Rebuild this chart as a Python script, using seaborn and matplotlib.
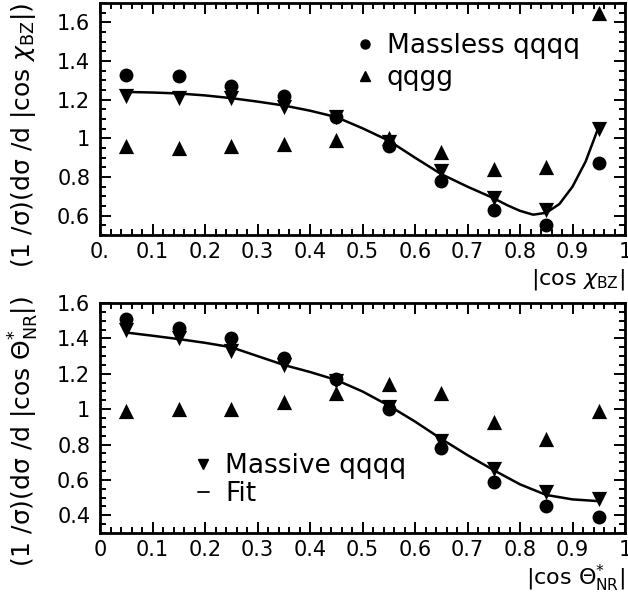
import matplotlib
matplotlib.use("Agg")
import matplotlib.pyplot as plt
from matplotlib.lines import Line2D
from matplotlib.ticker import MultipleLocator
import seaborn as sns
import numpy as np
import pandas as pd

# ---------------- data ----------------
x_bins = [0.05, 0.15, 0.25, 0.35, 0.45, 0.55, 0.65, 0.75, 0.85, 0.95]

# top panel: |cos chi_BZ|
top_massless = [1.33, 1.32, 1.27, 1.22, 1.11, 0.96, 0.78, 0.63, 0.55, 0.87]
top_qqgg     = [0.96, 0.95, 0.96, 0.97, 0.99, 1.00, 0.93, 0.84, 0.85, 1.65]
top_massive  = [1.22, 1.21, 1.21, 1.16, 1.11, 0.98, 0.83, 0.69, 0.63, 1.05]
top_fit_x = [0.05, 0.10, 0.15, 0.20, 0.25, 0.30, 0.35, 0.40, 0.45, 0.50, 0.55,
             0.60, 0.65, 0.70, 0.75, 0.775, 0.80, 0.825, 0.85, 0.875, 0.90, 0.925, 0.95]
top_fit_y = [1.240, 1.237, 1.232, 1.222, 1.208, 1.190, 1.170, 1.143, 1.110, 1.052, 0.988,
             0.900, 0.815, 0.750, 0.690, 0.655, 0.625, 0.605, 0.615, 0.660, 0.750, 0.880, 1.060]

# bottom panel: |cos Theta*_NR|
bot_massless = [1.51, 1.46, 1.40, 1.29, 1.17, 1.00, 0.78, 0.59, 0.45, 0.39]
bot_qqgg     = [0.99, 1.00, 1.00, 1.04, 1.09, 1.14, 1.09, 0.93, 0.83, 0.99]
bot_massive  = [1.45, 1.40, 1.33, 1.25, 1.16, 1.01, 0.82, 0.66, 0.53, 0.49]
bot_fit_x = [0.05, 0.10, 0.15, 0.20, 0.25, 0.30, 0.35, 0.40, 0.45, 0.50, 0.55,
             0.60, 0.65, 0.70, 0.75, 0.80, 0.85, 0.90, 0.95]
bot_fit_y = [1.433, 1.415, 1.396, 1.375, 1.350, 1.300, 1.250, 1.210, 1.165, 1.100, 1.020,
             0.930, 0.832, 0.740, 0.655, 0.575, 0.515, 0.490, 0.480]

top_xticklabels = ["0.", "0.1", "0.2", "0.3", "0.4", "0.5", "0.6", "0.7", "0.8", "0.9", "1"]
bot_xticklabels = ["0", "0.1", "0.2", "0.3", "0.4", "0.5", "0.6", "0.7", "0.8", "0.9", "1"]
top_yticks = [0.6, 0.8, 1.0, 1.2, 1.4, 1.6]
top_yticklabels = ["0.6", "0.8", "1", "1.2", "1.4", "1.6"]
bot_yticks = [0.4, 0.6, 0.8, 1.0, 1.2, 1.4, 1.6]
bot_yticklabels = ["0.4", "0.6", "0.8", "1", "1.2", "1.4", "1.6"]

# ---------------- style ----------------
sns.set_theme(style="ticks")
plt.rcParams['font.family'] = ['DejaVu Sans']
plt.rcParams['mathtext.fontset'] = 'dejavusans'
plt.rcParams['text.color'] = 'black'
plt.rcParams['axes.labelcolor'] = 'black'
plt.rcParams['xtick.color'] = 'black'
plt.rcParams['ytick.color'] = 'black'
plt.rcParams['xtick.labelcolor'] = 'black'
plt.rcParams['ytick.labelcolor'] = 'black'

W, H = 628, 597
fig = plt.figure(figsize=(W / 100, H / 100), dpi=100)
ax1 = fig.add_axes([100 / W, 1 - 235 / H, 525 / W, 232 / H])
ax2 = fig.add_axes([100 / W, 1 - 533 / H, 525 / W, 230 / H])


def draw(ax, massless, qqgg, massive, fx, fy):
    df = pd.DataFrame({"x": x_bins, "massless": massless, "qqgg": qqgg, "massive": massive})
    fit = pd.DataFrame({"x": fx, "y": fy})
    sns.lineplot(data=fit, x="x", y="y", ax=ax, color="black", lw=1.8, sort=False)
    sns.scatterplot(data=df, x="x", y="massless", ax=ax, marker="o", s=100,
                    color="black", edgecolor="black", linewidth=0, zorder=3)
    sns.scatterplot(data=df, x="x", y="qqgg", ax=ax, marker="^", s=120,
                    color="black", edgecolor="black", linewidth=0, zorder=3)
    sns.scatterplot(data=df, x="x", y="massive", ax=ax, marker="v", s=120,
                    color="black", edgecolor="black", linewidth=0, zorder=3)
    ax.set_xlabel("")
    ax.set_ylabel("")
    ax.set_xlim(0, 1)
    ax.xaxis.set_minor_locator(MultipleLocator(0.02))
    ax.yaxis.set_minor_locator(MultipleLocator(0.05))
    ax.tick_params(which="both", direction="in", top=True, right=True,
                   width=1.4, colors="black", labelcolor="black", labelsize=15)
    ax.tick_params(which="major", length=8, pad=5)
    ax.tick_params(which="minor", length=4)
    ax.tick_params(axis="y", which="major", pad=7)
    for sp in ax.spines.values():
        sp.set_visible(True)
        sp.set_linewidth(2.0)
        sp.set_color("black")


draw(ax1, top_massless, top_qqgg, top_massive, top_fit_x, top_fit_y)
draw(ax2, bot_massless, bot_qqgg, bot_massive, bot_fit_x, bot_fit_y)

ax1.set_ylim(0.5, 1.7)
ax1.set_xticks(np.linspace(0, 1, 11))
ax1.set_xticklabels(top_xticklabels)
ax1.set_yticks(top_yticks)
ax1.set_yticklabels(top_yticklabels)

ax2.set_ylim(0.3, 1.6)
ax2.set_xticks(np.linspace(0, 1, 11))
ax2.set_xticklabels(bot_xticklabels)
ax2.set_yticks(bot_yticks)
ax2.set_yticklabels(bot_yticklabels)

# legends
h_top = [Line2D([], [], marker="o", ls="", color="black", ms=6.5),
         Line2D([], [], marker="^", ls="", color="black", ms=6.5)]
leg1 = ax1.legend(h_top, ["Massless qqqq", "qqgg"], loc="upper left",
                  bbox_to_anchor=((360 - 100) / 525, (235 - 33) / 232),
                  frameon=False, fontsize=19, handlelength=0.4, handletextpad=0.62,
                  labelspacing=0.22, borderpad=0, borderaxespad=0)

h_bot = [Line2D([], [], marker="v", ls="", color="black", ms=6.5),
         Line2D([], [], color="black", lw=1.3)]
leg2 = ax2.legend(h_bot, ["Massive qqqq", "Fit"], loc="upper left",
                  bbox_to_anchor=((198 - 100) / 525, (533 - 453) / 230),
                  frameon=False, fontsize=19, handlelength=0.4, handletextpad=0.62,
                  labelspacing=0.08, borderpad=0, borderaxespad=0)
for lg in (leg1, leg2):
    for t in lg.get_texts():
        t.set_color("black")

# axis labels
fig.text(625 / W, 1 - 280 / H, r"|cos $\chi_{\mathrm{BZ}}$|", ha="right", va="center", fontsize=16)
fig.text(625 / W, 1 - 578 / H, r"|cos $\Theta^{*}_{\mathrm{NR}}$|", ha="right", va="center", fontsize=16)
fig.text(24 / W, 1 - 135 / H, r"(1 /σ)(dσ /d |cos $\chi_{\mathrm{BZ}}$|)", rotation=90,
         ha="center", va="center", fontsize=18)
fig.text(24 / W, 1 - 431 / H, r"(1 /σ)(dσ /d |cos $\Theta^{*}_{\mathrm{NR}}$|)", rotation=90,
         ha="center", va="center", fontsize=18)

fig.savefig("out.png", dpi=100)
